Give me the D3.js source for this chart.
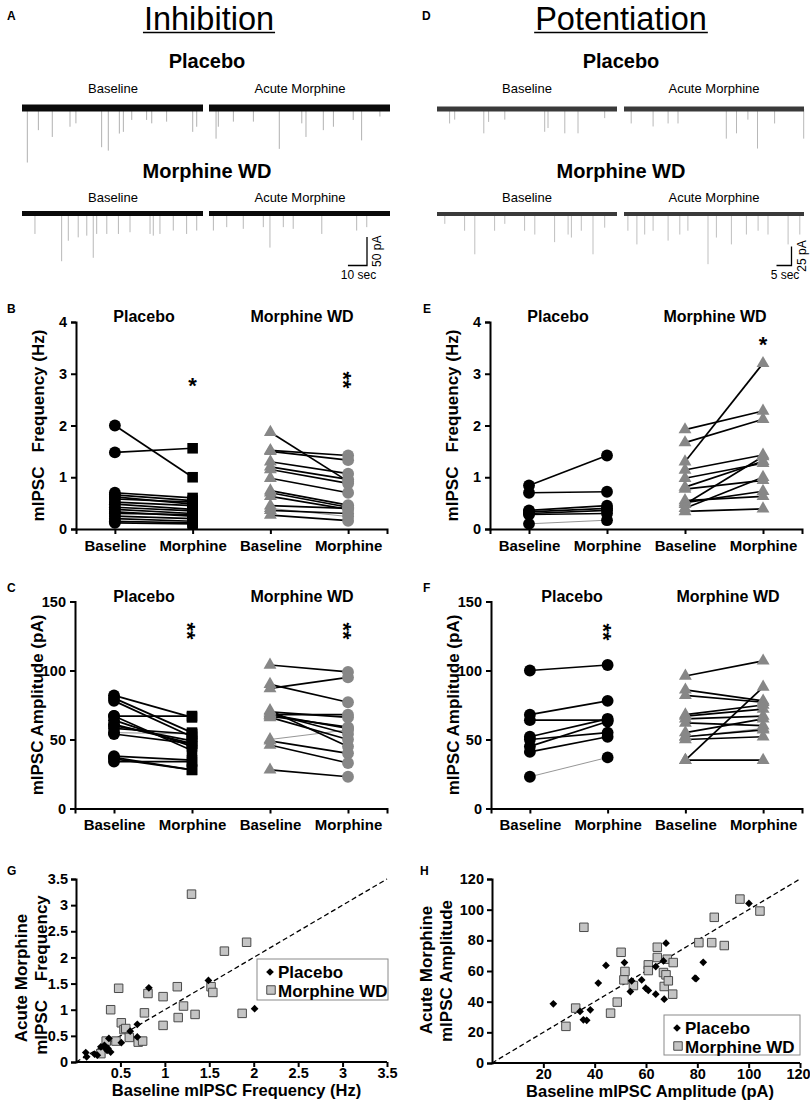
<!DOCTYPE html>
<html>
<head>
<meta charset="utf-8">
<script src="https://cdn.jsdelivr.net/npm/d3@7"></script>
<style>
  body { margin: 0; background: #fff; }
  text { font-family: 'Liberation Sans', Arial, sans-serif; }
</style>
</head>
<body>
<script>
"use strict";

/* ---------- data ---------- */

// example traces: spikes as [time (s), amplitude (pA)]
const spkInhPlBase  = [[2.8,96],[8.6,39],[15.9,51],[25.2,33],[28.3,27],[41.8,69],[45.3,75],[51.1,45],[53.2,42],[57.6,21],[65.4,21],[68.1,27],[75.9,24],[89.6,42],[91.7,33]];
const spkInhPlAcute = [[3.7,54],[4.9,33],[12.8,24],[23.3,24],[36.9,72],[48.7,27],[50.9,51],[60.0,39],[65.3,33],[75.7,21],[80.1,57],[89.7,15]];
const spkInhWdBase  = [[6.8,36],[20.8,84],[24.3,48],[29.5,42],[34.0,39],[37.4,78],[39.2,36],[44.5,36],[50.6,36],[56.7,33],[67.2,36],[68.9,39],[72.4,36],[79.4,30],[86.4,36],[91.7,30]];
const spkInhWdAcute = [[2.3,30],[9.3,24],[18.0,27],[28.5,24],[32.0,60],[39.0,24],[44.2,27],[59.2,36],[77.5,30],[82.8,24]];

const spkPotPlBase  = [[4.2,19],[5.9,14],[15.6,32],[17.2,17],[22.6,14],[35.9,30],[37.0,25],[42.6,32],[47.0,32],[55.9,12]];
const spkPotPlAcute = [[2.4,19],[9.7,23],[14.7,19],[18.0,19],[34.1,39],[37.5,32],[41.3,14],[44.5,52],[50.2,19],[59.9,39]];
const spkPotWdBase  = [[2.6,13],[9.2,22],[12.6,53],[19.2,22],[22.6,13],[29.2,22],[32.6,27],[39.2,37],[43.7,27],[44.8,31],[48.1,22],[52.0,53],[55.9,18]];
const spkPotWdAcute = [[1.3,22],[4.3,40],[6.9,27],[9.7,22],[14.7,35],[18.6,27],[21.3,22],[28.0,66],[30.8,31],[35.8,40],[40.8,27],[44.7,22],[48.0,27],[54.7,40],[58.6,27]];

// paired cells: [baseline, acute morphine]
const freqInhPlacebo = [[2.00,1.00],[1.48,1.56],[0.70,0.60],[0.66,0.55],[0.62,0.48],[0.58,0.52],[0.52,0.45],[0.48,0.38],[0.42,0.35],[0.38,0.30],[0.33,0.25],[0.30,0.28],[0.25,0.20],[0.20,0.15],[0.15,0.12],[0.12,0.10]];
const freqInhWd      = [[1.87,0.92],[1.52,1.42],[1.50,1.33],[1.30,1.07],[1.20,0.96],[1.15,0.88],[0.98,0.70],[0.74,0.46],[0.70,0.42],[0.63,0.38],[0.45,0.40],[0.36,0.30],[0.27,0.16]];
const freqInhWdFaint = [[0.40,0.24]];
const freqPotPlacebo = [[0.84,1.42],[0.70,0.72],[0.36,0.45],[0.33,0.40],[0.30,0.36],[0.28,0.30]];
const freqPotPlFaint = [[0.10,0.17]];
const freqPotWd      = [[1.92,2.28],[1.67,2.12],[1.30,3.20],[1.14,1.43],[0.98,1.27],[0.81,1.31],[0.77,0.94],[0.55,0.63],[0.51,0.73],[0.48,1.40],[0.40,1.00],[0.34,0.39]];

const ampInhPlacebo  = [[82,66],[80,55],[78,52],[67,67],[67,42],[64,45],[61,47],[60,49],[58,54],[54,47],[38,35],[37,28],[36,28],[34,34]];
const ampInhPlFaint  = [[55,54]];
const ampInhWd       = [[104,99],[90,77],[87,95],[71,45],[70,66],[69,54],[68,68],[68,58],[67,59],[66,50],[49,40],[46,33],[28,23]];
const ampInhWdFaint  = [[50,57]];
const ampPotPlacebo  = [[100,104],[68,78],[64,64],[52,65],[50,55],[45,63],[41,52]];
const ampPotPlFaint  = [[23,37]];
const ampPotWd       = [[96,107],[86,78],[82,77],[68,75],[67,72],[65,67],[62,60],[55,65],[52,57],[50,52],[35,88],[35,35]];
const ampPotWdFaint  = [[52,58]];

// scatter G / H: [baseline, acute]
const scatFreqPlacebo = [[0.11,0.18],[0.12,0.10],[0.21,0.15],[0.24,0.13],[0.28,0.29],[0.32,0.32],[0.33,0.27],[0.35,0.22],[0.36,0.26],[0.39,0.19],[0.37,0.45],[0.51,0.37],[0.61,0.59],[0.69,0.72],[0.69,0.48],[0.82,1.42],[1.49,1.56],[2.01,1.02]];
const scatFreqWd = [[0.28,0.16],[0.34,0.40],[0.45,0.40],[0.39,1.00],[0.48,1.41],[0.51,0.75],[0.54,0.62],[0.56,0.64],[0.60,0.47],[0.70,0.38],[0.75,0.40],[0.77,0.94],[0.81,1.31],[0.98,1.25],[0.98,0.70],[1.14,1.44],[1.15,0.85],[1.21,1.07],[1.34,0.91],[1.30,3.21],[1.52,1.44],[1.54,1.33],[1.67,2.12],[1.92,2.29],[1.87,0.93]];
const scatAmpPlacebo = [[23.9,38.6],[34.3,33.6],[35.6,28.2],[36.9,27.8],[38.3,34.7],[41.4,52.1],[44.4,63.6],[51.6,65.5],[53.9,46.6],[54.4,53.6],[58.3,54.2],[59.9,48.8],[60.9,47.3],[63.8,44.9],[63.8,62.9],[66.8,66.6],[67.8,78.1],[67.1,41.6],[79.1,55.3],[79.5,55.0],[82.3,65.7],[100.1,104.1]];
const scatAmpWd = [[28.8,23.9],[32.6,35.8],[35.8,88.5],[46.2,32.5],[48.8,39.7],[50.3,72.2],[51.8,59.7],[51.4,54.2],[55.1,50.5],[60.9,64.0],[60.9,60.3],[64.4,75.5],[64.4,68.8],[66.8,59.0],[67.8,57.5],[68.3,67.7],[67.1,49.9],[68.7,53.6],[70.6,65.5],[70.4,44.9],[80.6,78.5],[85.6,78.5],[86.6,95.0],[90.5,76.6],[96.6,106.9],[104.4,99.1]];

const conds = ["plBase", "plMor", "wdBase", "wdMor"];
const condNames = {plBase: "Baseline", plMor: "Morphine", wdBase: "Baseline", wdMor: "Morphine"};
const freqTicks = [0, 1, 2, 3, 4];
const ampTicks = [0, 50, 100, 150];
const scatFreqTicks = [0, 0.5, 1, 1.5, 2, 2.5, 3, 3.5];
const scatAmpTicks = [0, 20, 40, 60, 80, 100, 120];

/* ---------- drawing ---------- */

const GREY = "#878787";
const FONT = "'Liberation Sans', Arial, sans-serif";
const fmt = d3.format("~g");

const svg = d3.select("body").append("svg")
  .attr("width", 810).attr("height", 1100);
svg.append("rect").attr("width", 810).attr("height", 1100).attr("fill", "#fff");

function label(x, y, t, size, weight, anchor) {
  return svg.append("text").attr("x", x).attr("y", y)
    .attr("font-size", size).attr("font-weight", weight || "normal")
    .attr("text-anchor", anchor || "middle").text(t);
}

// panel letters
[["A",7,20],["D",422,20],["B",7,313],["C",7,592],["E",423,313],["F",423,592],["G",7,875],["H",420,875]]
  .forEach(d => label(d[1], d[2], d[0], 12, "bold", "start"));

// big underlined titles
[["Inhibition",209],["Potentiation",621]].forEach(d => {
  const t = label(d[1], 29.5, d[0], 32.5);
  const w = t.node().getComputedTextLength();
  svg.append("line").attr("x1", d[1] - w/2 - 1).attr("x2", d[1] + w/2 + 1)
    .attr("y1", 32.5).attr("y2", 32.5).attr("stroke", "#000").attr("stroke-width", 1.5);
});

/* traces */
function trace(spikes, x0, x1, dur, yc, band, bandColor, spikeColor, ampPx) {
  const tx = d3.scaleLinear().domain([0, dur]).range([x0, x1]);
  const ay = d3.scaleLinear().domain([0, 50]).range([0, ampPx]);
  const g = svg.append("g");
  g.selectAll("line.sp").data(spikes).enter().append("line")
    .attr("x1", d => tx(d[0])).attr("x2", d => tx(d[0]))
    .attr("y1", yc).attr("y2", d => yc + ay(d[1]))
    .attr("stroke", spikeColor).attr("stroke-width", 0.9);
  g.append("line").attr("x1", x0).attr("x2", x1).attr("y1", yc).attr("y2", yc)
    .attr("stroke", bandColor).attr("stroke-width", band);
  return {tx, ay};
}

function traceHeader(cx, cy1, cy2, xBase, xAcute) {
  label(cx, cy1, "Placebo", 20, "bold");
  label(cx, cy2, "Morphine WD", 20, "bold");
  [cy1 + 25, cy2 + 23.5].forEach(y => {
    label(xBase, y, "Baseline", 13);
    label(xAcute, y, "Acute Morphine", 13);
  });
}

traceHeader(207, 68, 178, 113, 300);
trace(spkInhPlBase, 22, 203, 95, 108, 7, "#0a0a0a", "#a8a8a8", 28.4);
const sA = trace(spkInhPlAcute, 209, 390, 95, 108, 7, "#0a0a0a", "#a8a8a8", 28.4);
trace(spkInhWdBase, 22, 203, 95, 213.5, 5, "#0a0a0a", "#b0b0b0", 28.4);
trace(spkInhWdAcute, 209, 390, 95, 213.5, 5, "#0a0a0a", "#b0b0b0", 28.4);

traceHeader(621, 68, 178, 527, 714);
trace(spkPotPlBase, 437, 617, 60, 109, 5, "#3a3a3a", "#b0b0b0", 38);
const sD = trace(spkPotPlAcute, 624, 804, 60, 109, 5, "#3a3a3a", "#b0b0b0", 38);
trace(spkPotWdBase, 437, 617, 60, 214, 4, "#3a3a3a", "#b8b8b8", 38);
trace(spkPotWdAcute, 624, 804, 60, 214, 4, "#3a3a3a", "#b8b8b8", 38);

function scaleBar(s, xr, yb, secs, pA, secText, pAText) {
  const w = s.tx(secs) - s.tx(0), h = s.ay(pA);
  svg.append("path")
    .attr("d", `M${xr - w},${yb}H${xr}V${yb - h}`)
    .attr("fill", "none").attr("stroke", "#000").attr("stroke-width", 1.3);
  label(xr - w/2 + 1, yb + 13, secText, 12);
  svg.append("text").attr("transform", `translate(${xr + 14},${yb - h/2}) rotate(-90)`)
    .attr("text-anchor", "middle").attr("font-size", 12).text(pAText);
}
scaleBar(sA, 367, 265.5, 10, 50, "10 sec", "50 pA");
scaleBar(sD, 791.5, 265.5, 5, 25, "5 sec", "25 pA");

/* paired panels */
const syms = {
  circle: d3.symbol(d3.symbolCircle, 110),
  square: d3.symbol(d3.symbolSquare, 112),
  triangle: d3.symbol(d3.symbolTriangle, 72)
};

function styleAxis(a, size) {
  a.selectAll("path,line").attr("stroke", "#000").attr("stroke-width", 2);
  a.selectAll("text").attr("font-size", size).attr("font-weight", "bold")
    .attr("font-family", FONT).attr("fill", "#000");
}

function paired(p) {
  const x = d3.scalePoint().domain(conds).range([p.left, p.right]).padding(0.5);
  const y = d3.scaleLinear().domain(p.domain).range([p.bottom, p.top]);
  const g = svg.append("g");

  const ax = g.append("g").attr("transform", `translate(0,${p.bottom})`)
    .call(d3.axisBottom(x).tickSizeOuter(0).tickSize(5).tickPadding(6).tickFormat(d => condNames[d]));
  const ay = g.append("g").attr("transform", `translate(${p.left},0)`)
    .call(d3.axisLeft(y).tickValues(p.ticks).tickFormat(fmt).tickSizeOuter(0).tickSize(5).tickPadding(4));
  styleAxis(ax, 15);
  styleAxis(ay, 14.5);

  g.append("text")
    .attr("transform", `translate(${p.left - 32},${(p.top + p.bottom)/2}) rotate(-90)`)
    .attr("text-anchor", "middle").attr("font-size", 17).attr("font-weight", "bold")
    .style("white-space", "pre").text(p.yLabel);

  label(p.titleX[0], p.top, "Placebo", 16, "bold");
  label(p.titleX[1], p.top, "Morphine WD", 16, "bold");

  function lines(data, c0, c1, color, width) {
    g.selectAll(null).data(data).enter().append("line")
      .attr("x1", x(c0)).attr("x2", x(c1))
      .attr("y1", d => y(d[0])).attr("y2", d => y(d[1]))
      .attr("stroke", color).attr("stroke-width", width);
  }
  function marks(data, idx, c, sym, color) {
    g.selectAll(null).data(data).enter().append("path")
      .attr("d", syms[sym]())
      .attr("transform", d => `translate(${x(c)},${y(d[idx])})`)
      .attr("fill", color);
  }
  lines(p.plFaint || [], "plBase", "plMor", "#8a8a8a", 0.9);
  lines(p.wdFaint || [], "wdBase", "wdMor", "#8a8a8a", 0.9);
  lines(p.placebo, "plBase", "plMor", "#000", 1.7);
  lines(p.wd, "wdBase", "wdMor", "#000", 1.7);
  const plAll = p.placebo.concat(p.plFaint || []);
  const wdAll = p.wd.concat(p.wdFaint || []);
  marks(plAll, 0, "plBase", "circle", "#000");
  marks(plAll, 1, "plMor", p.plMorSym, "#000");
  marks(wdAll, 0, "wdBase", "triangle", GREY);
  marks(wdAll, 1, "wdMor", p.wdMorSym, GREY);

  p.stars.forEach(s => {
    const fs = 22;
    const t = g.append("text").attr("text-anchor", "middle")
      .attr("font-size", fs).attr("font-weight", "bold").text(s.t);
    if (s.t.length > 1) {
      t.attr("transform", `translate(${x(s.c)},${s.y}) rotate(90)`).attr("y", 0.55 * fs);
    } else {
      t.attr("x", x(s.c)).attr("y", s.y + 0.55 * fs);
    }
  });
}

paired({left: 76, right: 387, top: 322, bottom: 529, domain: [0, 4], ticks: freqTicks,
  yLabel: "mIPSC   Frequency (Hz)", titleX: [144, 302],
  placebo: freqInhPlacebo, wd: freqInhWd, wdFaint: freqInhWdFaint,
  plMorSym: "square", wdMorSym: "circle",
  stars: [{c: "plMor", t: "*", y: 381}, {c: "wdMor", t: "**", y: 380}]});

paired({left: 75, right: 387, top: 601.5, bottom: 808.5, domain: [0, 150], ticks: ampTicks,
  yLabel: "mIPSC Amplitude (pA)", titleX: [144, 302],
  placebo: ampInhPlacebo, plFaint: ampInhPlFaint, wd: ampInhWd, wdFaint: ampInhWdFaint,
  plMorSym: "square", wdMorSym: "circle",
  stars: [{c: "plMor", t: "**", y: 631}, {c: "wdMor", t: "**", y: 631}]});

paired({left: 490, right: 802, top: 322, bottom: 529, domain: [0, 4], ticks: freqTicks,
  yLabel: "mIPSC   Frequency (Hz)", titleX: [558, 715],
  placebo: freqPotPlacebo, plFaint: freqPotPlFaint, wd: freqPotWd,
  plMorSym: "circle", wdMorSym: "triangle",
  stars: [{c: "wdMor", t: "*", y: 340}]});

paired({left: 491, right: 802, top: 601.5, bottom: 808.5, domain: [0, 150], ticks: ampTicks,
  yLabel: "mIPSC Amplitude (pA)", titleX: [572, 728],
  placebo: ampPotPlacebo, plFaint: ampPotPlFaint, wd: ampPotWd, wdFaint: ampPotWdFaint,
  plMorSym: "circle", wdMorSym: "triangle",
  stars: [{c: "plMor", t: "**", y: 632}]});

/* scatter panels */
function scatter(p) {
  const x = d3.scaleLinear().domain(p.domain).range([p.left, p.right]);
  const y = d3.scaleLinear().domain(p.domain).range([p.bottom, p.top]);
  const g = svg.append("g");

  const ax = g.append("g").attr("transform", `translate(0,${p.bottom})`)
    .call(d3.axisBottom(x).tickValues(p.ticks.slice(1)).tickFormat(fmt)
      .tickSizeOuter(0).tickSize(5).tickPadding(1));
  const ay = g.append("g").attr("transform", `translate(${p.left},0)`)
    .call(d3.axisLeft(y).tickValues(p.ticks).tickFormat(fmt)
      .tickSizeOuter(0).tickSize(5).tickPadding(3));
  styleAxis(ax, 14.5);
  styleAxis(ay, 14.5);
  ax.select("path.domain").attr("d", `M${p.left},0H${p.right}`);
  ax.selectAll(".tick").filter((d, i, n) => i === n.length - 1).select("text").attr("dx", p.lastDx || 0);

  g.append("line")
    .attr("x1", x(p.domain[0])).attr("y1", y(p.domain[0]))
    .attr("x2", x(p.domain[1])).attr("y2", y(p.domain[1]))
    .attr("stroke", "#000").attr("stroke-width", 1.3).attr("stroke-dasharray", "5,3");

  const diamond = d3.symbol(d3.symbolSquare, 30);
  const square = d3.symbol(d3.symbolSquare, 72);
  g.selectAll(null).data(p.wd).enter().append("path")
    .attr("d", square())
    .attr("transform", d => `translate(${x(d[0])},${y(d[1])})`)
    .attr("fill", "#c4c4c4").attr("stroke", "#4a4a4a").attr("stroke-width", 1);
  g.selectAll(null).data(p.placebo).enter().append("path")
    .attr("d", diamond())
    .attr("transform", d => `translate(${x(d[0])},${y(d[1])}) rotate(45)`)
    .attr("fill", "#000");

  // axis labels
  g.append("text").attr("x", (p.left + p.right)/2 + p.xLabelShift).attr("y", p.bottom + 34)
    .attr("text-anchor", "middle").attr("font-size", 16.5).attr("font-weight", "bold").text(p.xLabel);
  p.yLabels.forEach((t, i) => {
    g.append("text")
      .attr("transform", `translate(${p.yLabelX[i]},${p.yLabelY[i]}) rotate(-90)`)
      .attr("text-anchor", "middle").attr("font-size", 17).attr("font-weight", "bold")
      .style("white-space", "pre").text(t);
  });

  // legend
  const L = p.legend;
  g.append("rect").attr("x", L.x).attr("y", L.y).attr("width", L.w).attr("height", L.h)
    .attr("fill", "#fff").attr("stroke", "#8a8a8a").attr("stroke-width", 1);
  g.append("path").attr("d", diamond())
    .attr("transform", `translate(${L.x + 13},${L.y + 13}) rotate(45)`).attr("fill", "#000");
  g.append("path").attr("d", square())
    .attr("transform", `translate(${L.x + 14},${L.y + 31})`)
    .attr("fill", "#c4c4c4").attr("stroke", "#4a4a4a");
  g.append("text").attr("x", L.x + 21).attr("y", L.y + 19).attr("font-size", 17)
    .attr("font-weight", "bold").text("Placebo");
  g.append("text").attr("x", L.x + 21).attr("y", L.y + 37.5).attr("font-size", 17)
    .attr("font-weight", "bold").text("Morphine WD");
}

scatter({left: 76, right: 387, top: 879, bottom: 1062, domain: [0, 3.5], ticks: scatFreqTicks,
  placebo: scatFreqPlacebo, wd: scatFreqWd,
  xLabel: "Baseline mIPSC Frequency (Hz)", xLabelShift: 5,
  yLabels: ["Acute Morphine", "mIPSC    Frequency"], yLabelX: [27, 47], yLabelY: [978, 975],
  legend: {x: 257, y: 959, w: 131, h: 41}});

scatter({left: 492, right: 800, top: 879, bottom: 1063, domain: [0, 120], ticks: scatAmpTicks,
  placebo: scatAmpPlacebo, wd: scatAmpWd, lastDx: -2,
  xLabel: "Baseline mIPSC Amplitude (pA)", xLabelShift: 4,
  yLabels: ["Acute Morphine", "mIPSC Amplitude"], yLabelX: [432, 452], yLabelY: [970, 971],
  legend: {x: 664, y: 1015, w: 136, h: 40}});
</script>
</body>
</html>
